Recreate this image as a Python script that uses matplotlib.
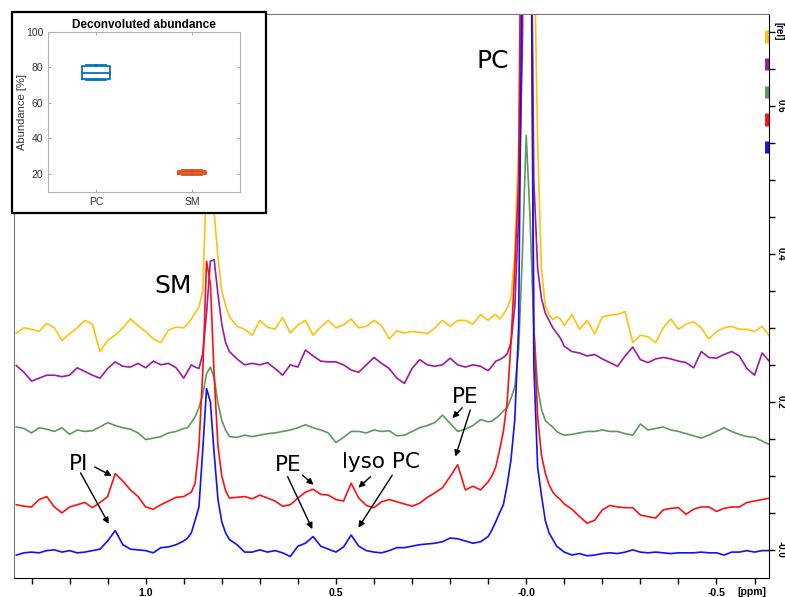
import numpy as np
import matplotlib
matplotlib.use('Agg')
import matplotlib.pyplot as plt
from matplotlib.patches import Rectangle

# chemical shift grid [ppm], finer sampling around the SM and PC peaks
ppm = np.round(np.concatenate([
    np.arange(1.34, 0.899, -0.02),
    np.arange(0.89, 0.785, -0.01),
    np.arange(0.78, 0.099, -0.02),
    np.arange(0.09, -0.095, -0.01),
    np.arange(-0.10, -0.645, -0.02),
]), 3)

# spectra [rel] (one value per grid point)
blue = [-0.007, -0.004, -0.003, -0.004, -0.001, 0.000, -0.003, -0.001, -0.004, -0.003, -0.001, 0.001,
        0.012, 0.026, 0.007, 0.001, 0.000, -0.001, -0.004, 0.003, 0.004, 0.007, 0.012,
        0.016, 0.023, 0.040, 0.058, 0.135, 0.218, 0.200, 0.130, 0.068, 0.038, 0.023,
        0.014, 0.007, -0.003, -0.003, 0.000, -0.003, -0.001, -0.004, -0.009, 0.005,
        0.009, 0.018, 0.005, 0.001, -0.003, 0.004, 0.020, 0.005, -0.001, -0.003,
        -0.004, -0.001, 0.003, 0.003, 0.005, 0.007, 0.008, 0.009, 0.011, 0.016,
        0.015, 0.012, 0.009, 0.011, 0.018,
        0.027, 0.038, 0.050, 0.061, 0.088, 0.122, 0.176, 0.300, 0.850, 1.300,
        1.100, 0.250, 0.112, 0.074, 0.040, 0.023, 0.014, 0.005, 0.001,
        -0.003, -0.007, -0.005, -0.008, -0.007, -0.005, -0.004, -0.005, -0.003, 0.000,
        -0.003, -0.004, -0.003, -0.004, -0.005, -0.004, -0.004, -0.004, -0.003, -0.004,
        -0.004, -0.007, -0.003, -0.003, -0.001, -0.003, -0.001, -0.001]
red = [0.061, 0.059, 0.058, 0.068, 0.072, 0.058, 0.050, 0.058, 0.061, 0.064, 0.057, 0.064,
       0.072, 0.103, 0.093, 0.081, 0.072, 0.058, 0.055, 0.061, 0.066, 0.071, 0.072,
       0.075, 0.078, 0.090, 0.140, 0.240, 0.390, 0.360, 0.235, 0.140, 0.100, 0.080,
       0.070, 0.071, 0.072, 0.069, 0.074, 0.070, 0.066, 0.059, 0.061, 0.070,
       0.078, 0.082, 0.075, 0.074, 0.068, 0.066, 0.090, 0.070, 0.060, 0.057,
       0.065, 0.068, 0.065, 0.062, 0.059, 0.063, 0.071, 0.077, 0.084, 0.099,
       0.115, 0.081, 0.086, 0.081, 0.092,
       0.100, 0.112, 0.135, 0.160, 0.200, 0.280, 0.380, 0.500, 1.100, 1.500,
       1.200, 0.300, 0.180, 0.128, 0.104, 0.088, 0.078, 0.072, 0.068,
       0.062, 0.055, 0.045, 0.036, 0.040, 0.054, 0.060, 0.058, 0.057, 0.057,
       0.047, 0.045, 0.043, 0.054, 0.056, 0.057, 0.048, 0.055, 0.058, 0.058,
       0.052, 0.056, 0.058, 0.058, 0.064, 0.066, 0.068, 0.070]
green = [0.166, 0.164, 0.158, 0.165, 0.163, 0.160, 0.165, 0.156, 0.162, 0.160, 0.161, 0.166,
         0.172, 0.168, 0.165, 0.163, 0.158, 0.149, 0.151, 0.153, 0.158, 0.160, 0.164,
         0.165, 0.172, 0.180, 0.192, 0.210, 0.238, 0.247, 0.232, 0.198, 0.175, 0.162,
         0.153, 0.152, 0.155, 0.153, 0.155, 0.157, 0.158, 0.160, 0.162, 0.165,
         0.169, 0.165, 0.162, 0.158, 0.145, 0.152, 0.160, 0.160, 0.158, 0.162,
         0.160, 0.161, 0.154, 0.155, 0.160, 0.165, 0.168, 0.172, 0.182, 0.171,
         0.160, 0.163, 0.168, 0.176, 0.173,
         0.174, 0.178, 0.182, 0.188, 0.192, 0.205, 0.220, 0.270, 0.400, 0.560,
         0.450, 0.300, 0.220, 0.190, 0.175, 0.170, 0.166, 0.160, 0.157,
         0.155, 0.156, 0.158, 0.160, 0.160, 0.162, 0.160, 0.160, 0.157, 0.155,
         0.170, 0.162, 0.164, 0.166, 0.162, 0.160, 0.157, 0.154, 0.151, 0.155,
         0.160, 0.165, 0.160, 0.156, 0.153, 0.152, 0.147, 0.142]
purple = [0.249, 0.240, 0.228, 0.232, 0.236, 0.236, 0.234, 0.236, 0.246, 0.241, 0.236, 0.232,
          0.245, 0.254, 0.248, 0.247, 0.252, 0.246, 0.255, 0.250, 0.252, 0.246, 0.232,
          0.241, 0.250, 0.247, 0.245, 0.265, 0.320, 0.390, 0.392, 0.345, 0.305, 0.280,
          0.268, 0.258, 0.250, 0.252, 0.250, 0.253, 0.245, 0.236, 0.250, 0.247,
          0.270, 0.262, 0.255, 0.254, 0.254, 0.250, 0.243, 0.240, 0.250, 0.260,
          0.252, 0.245, 0.232, 0.225, 0.245, 0.257, 0.250, 0.248, 0.250, 0.259,
          0.250, 0.247, 0.250, 0.248, 0.242,
          0.248, 0.255, 0.257, 0.260, 0.265, 0.280, 0.330, 0.450, 0.680, 1.250,
          1.050, 0.500, 0.380, 0.340, 0.320, 0.310, 0.300, 0.293, 0.286,
          0.275, 0.268, 0.266, 0.262, 0.264, 0.258, 0.253, 0.248, 0.262, 0.274,
          0.257, 0.253, 0.258, 0.260, 0.258, 0.255, 0.253, 0.246, 0.268, 0.260,
          0.259, 0.264, 0.268, 0.262, 0.245, 0.236, 0.266, 0.254]
yellow = [0.293, 0.300, 0.298, 0.295, 0.306, 0.300, 0.283, 0.292, 0.300, 0.310, 0.305, 0.268,
          0.283, 0.290, 0.300, 0.312, 0.303, 0.295, 0.285, 0.280, 0.297, 0.301, 0.300,
          0.305, 0.312, 0.320, 0.328, 0.350, 0.500, 0.530, 0.455, 0.395, 0.350, 0.330,
          0.315, 0.302, 0.298, 0.290, 0.310, 0.301, 0.298, 0.314, 0.293, 0.304,
          0.310, 0.290, 0.301, 0.310, 0.300, 0.304, 0.312, 0.300, 0.302, 0.310,
          0.303, 0.285, 0.296, 0.293, 0.295, 0.294, 0.292, 0.300, 0.310, 0.302,
          0.310, 0.310, 0.305, 0.318, 0.310,
          0.315, 0.318, 0.312, 0.318, 0.327, 0.340, 0.400, 0.550, 0.850, 1.300,
          1.200, 0.850, 0.550, 0.380, 0.330, 0.318, 0.311, 0.315, 0.312,
          0.303, 0.318, 0.298, 0.310, 0.292, 0.315, 0.317, 0.318, 0.322, 0.280,
          0.290, 0.288, 0.280, 0.300, 0.312, 0.298, 0.305, 0.308, 0.300, 0.285,
          0.295, 0.300, 0.302, 0.298, 0.298, 0.295, 0.302, 0.288]

# inset: deconvoluted abundance [%] (box statistics)
groups = ['PC', 'SM']
q1 = [73.5, 20.2]
median = [77.0, 20.8]
q3 = [80.5, 21.5]
whisk_lo = [73.0, 19.3]
whisk_hi = [81.5, 22.0]

# peak labels: text, ppm, rel, size
peak_labels = [
    ('PC', 0.089, 0.661, 18),
    ('SM', 0.929, 0.357, 18),
    ('PI', 1.176, 0.116, 15.5),
    ('PE', 0.625, 0.115, 15.5),
    ('lyso PC', 0.383, 0.119, 15.5),
    ('PE', 0.160, 0.207, 15.5),
]
# arrows: (from ppm, rel) -> (to ppm, rel)
arrows = [
    ((1.134, 0.112), (1.089, 0.100)),
    ((1.171, 0.104), (1.097, 0.035)),
    ((0.588, 0.101), (0.559, 0.088)),
    ((0.627, 0.099), (0.562, 0.028)),
    ((0.409, 0.099), (0.441, 0.084)),
    ((0.352, 0.101), (0.441, 0.030)),
    ((0.168, 0.192), (0.194, 0.178)),
    ((0.147, 0.189), (0.186, 0.126)),
]

colours = {'yellow': '#ffc20e', 'purple': '#a0199e', 'green': '#5c9a5c',
           'red': '#ff1010', 'blue': '#1010ff'}


def main():
    fig = plt.figure(figsize=(7.85, 5.97), dpi=100)
    ax = fig.add_axes([14 / 785, 19 / 597, 755 / 785, 564 / 597])

    for name, spec in [('yellow', yellow), ('purple', purple), ('green', green),
                       ('red', red), ('blue', blue)]:
        ax.plot(ppm, spec, color=colours[name], lw=1.2)

    ax.set_xlim(1.346, -0.638)
    ax.set_ylim(-0.038, 0.724)

    # x axis
    ax.set_xticks([1.0, 0.5, 0.0, -0.5])
    ax.set_xticklabels(['1.0', '0.5', '-0.0', '-0.5'])
    ax.set_xticks(np.round(np.arange(1.3, -0.65, -0.1), 2), minor=True)
    ax.tick_params(axis='x', which='both', direction='out', length=4, width=1,
                   labelsize=7.5, pad=3)
    for t in ax.get_xticklabels():
        t.set_fontweight('bold')
        t.set_family('Liberation Sans')
    ax.text(0.977, -0.016, '[ppm]', transform=ax.transAxes, ha='center', va='top',
            fontsize=7.5, fontweight='bold', family='Liberation Sans')

    # y axis on the right, rotated labels
    ax.yaxis.tick_right()
    ax.set_yticks([0.0, 0.2, 0.4, 0.6])
    ax.set_yticklabels(['-0.0', '0.2', '0.4', '0.6'])
    ax.set_yticks(np.round(np.arange(-0.0, 0.72, 0.05), 2), minor=True)
    ax.tick_params(axis='y', which='both', direction='out', length=4, width=1,
                   labelsize=7, pad=1, labelrotation=-90)
    for t in ax.get_yticklabels():
        t.set_fontweight('bold')
        t.set_family('Liberation Sans')
        t.set_va('center')
    ax.text(1.0065, 0.985, '[rel]', transform=ax.transAxes, ha='left', va='top',
            rotation=-90, fontsize=7, fontweight='bold', family='Liberation Sans')

    ax.spines['left'].set_color('#777777')
    ax.spines['top'].set_color('#777777')

    # coloured offset markers on the right edge
    for i, name in enumerate(['yellow', 'purple', 'green', 'red', 'blue']):
        yc = 0.96 - i * 0.049
        ax.plot([0.998, 0.998], [yc - 0.011, yc + 0.011], transform=ax.transAxes,
                color=colours[name], lw=3.5, solid_capstyle='butt', clip_on=False)

    for text, x, y, size in peak_labels:
        ax.text(x, y, text, fontsize=size, ha='center', va='center', color='black')
    for start, end in arrows:
        ax.annotate('', xy=end, xytext=start,
                    arrowprops=dict(arrowstyle='-|>', color='black', lw=1.0,
                                    mutation_scale=9, shrinkA=0, shrinkB=0))

    # inset box plot
    frame = Rectangle((12 / 785, 1 - 213 / 597), 254 / 785, 201 / 597,
                      transform=fig.transFigure, facecolor='white',
                      edgecolor='black', lw=1.6, zorder=5)
    fig.add_artist(frame)
    ax_in = fig.add_axes([48 / 785, 1 - 191.7 / 597, 192 / 785, 160 / 597])
    ax_in.set_zorder(6)
    box_colours = ['#0072BD', '#D95319']
    for i, g in enumerate(groups):
        stats = [dict(med=median[i], q1=q1[i], q3=q3[i], whislo=whisk_lo[i],
                      whishi=whisk_hi[i], label=g)]
        c = box_colours[i]
        ax_in.bxp(stats, positions=[i + 1], widths=0.3, capwidths=0.2,
                  showfliers=False, patch_artist=False,
                  boxprops=dict(color=c, lw=1.3),
                  medianprops=dict(color=c, lw=1.3),
                  whiskerprops=dict(color=c, lw=1.3),
                  capprops=dict(color=c, lw=1.3))
    ax_in.set_xlim(0.5, 2.5)
    ax_in.set_ylim(10, 100)
    ax_in.set_xticks([1, 2])
    ax_in.set_xticklabels(groups)
    ax_in.set_yticks([20, 40, 60, 80, 100])
    ax_in.tick_params(direction='in', length=2.5, width=0.6, color='#999999',
                      labelsize=7.5, labelcolor='#333333', top=True, right=True)
    for sp in ax_in.spines.values():
        sp.set_color('#b0b0b0')
        sp.set_linewidth(0.8)
    for t in ax_in.get_xticklabels() + ax_in.get_yticklabels():
        t.set_family('Liberation Sans')
    ax_in.set_ylabel('Abundance [%]', fontsize=8, color='#333333',
                     family='Liberation Sans', labelpad=-1)
    ax_in.set_title('Deconvoluted abundance', fontsize=8.5, fontweight='bold',
                    family='Liberation Sans', pad=3)

    fig.savefig('out.png', dpi=100)


if __name__ == '__main__':
    main()
